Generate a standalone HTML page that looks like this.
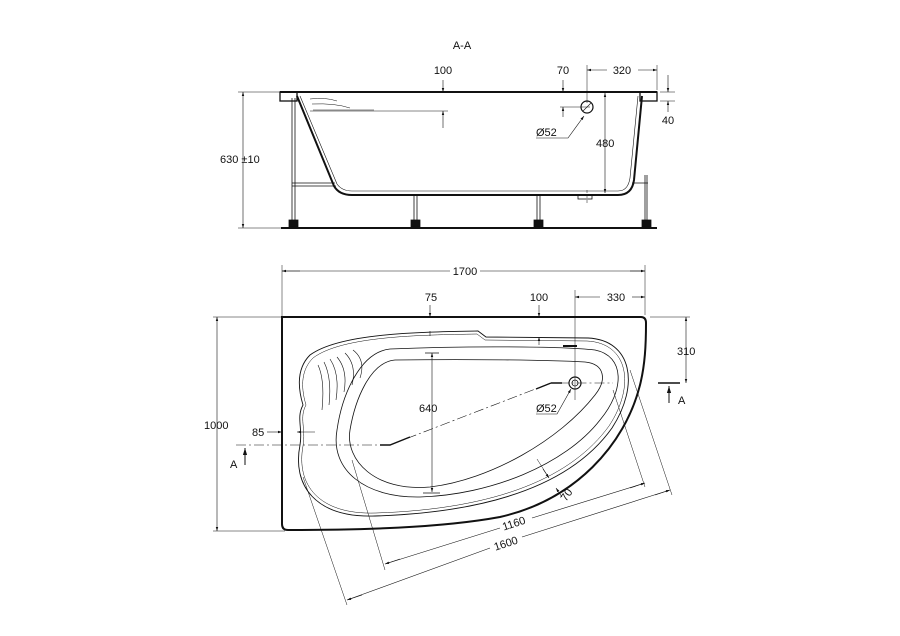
<!DOCTYPE html>
<html><head><meta charset="utf-8"><style>
html,body{margin:0;padding:0;background:#fff;}
svg{display:block;}
text{font-family:"Liberation Sans",sans-serif;font-size:11px;fill:#111;}
</style></head><body>
<svg width="900" height="636" viewBox="0 0 900 636" xmlns="http://www.w3.org/2000/svg">
<defs>
<marker id="a" viewBox="0 0 10 10" refX="10" refY="5" markerWidth="7" markerHeight="7" orient="auto-start-reverse"><path d="M0,2 L10,5 L0,8 Z" fill="#111"/></marker>
</defs>
<g stroke="#111" fill="none" stroke-width="0.8">
<text x="462" y="49" text-anchor="middle" stroke="none" font-size="12">A-A</text>
<path d="M280,92 H657" stroke-width="2"/>
<rect x="280" y="92" width="17" height="9" stroke-width="1.3"/>
<rect x="640" y="92" width="17" height="9" stroke-width="1.3"/>
<path d="M297,96 L334,186 Q339,195 352,195 L618,195 Q632,195 634,180 L642,96" stroke-width="2"/>
<path d="M300,96 L337,184 Q342,191 352,191 L618,191 Q628,191 630,178 L638,96" stroke-width="0.6"/>
<path d="M310,99 Q325,97 337,101 M312,104 Q335,103 350,108 M313,110 H374" stroke-width="0.5"/>
<path d="M281,228 H657" stroke-width="2"/>
<path d="M292,98 V222 M295,98 V222" stroke-width="0.8"/>
<path d="M292,183 H335 M292,186 H336" stroke-width="0.8"/>
<path d="M632,183 H648 M645,175 V220 M647,175 V220" stroke-width="0.8"/>
<path d="M414,195 V222 M417,195 V222 M537,195 V222 M540,195 V222" stroke-width="0.8"/>
<rect x="289" y="220" width="9" height="7" fill="#111"/>
<rect x="411" y="220" width="9" height="7" fill="#111"/>
<rect x="534" y="220" width="9" height="7" fill="#111"/>
<rect x="642" y="220" width="9" height="7" fill="#111"/>
<rect x="578" y="195" width="14" height="4" stroke-width="0.8"/>
<path d="M587,190 V205" stroke-dasharray="3,2" stroke-width="0.5"/>
<path d="M238,92 H280 M238,228 H281" stroke-width="0.5"/>
<path d="M243,92 V228" marker-start="url(#a)" marker-end="url(#a)" stroke-width="0.6"/>
<text x="220" y="163" stroke="none">630 ±10</text>
<path d="M443,80 V92" marker-end="url(#a)" stroke-width="0.6"/>
<path d="M443,128 V111" marker-end="url(#a)" stroke-width="0.6"/>
<path d="M310,111 H448" stroke-width="0.5"/>
<text x="443" y="74" text-anchor="middle" stroke="none">100</text>
<path d="M563,80 V92" marker-end="url(#a)" stroke-width="0.6"/>
<path d="M563,117 V107" marker-end="url(#a)" stroke-width="0.6"/>
<path d="M560,107 H590" stroke-width="0.5"/>
<text x="563" y="74" text-anchor="middle" stroke="none">70</text>
<circle cx="587" cy="107" r="6" stroke-width="1.2"/>
<path d="M583,111 L591,103" stroke-width="0.6"/>
<path d="M587,65 V103 M657,65 V90" stroke-width="0.5"/>
<path d="M587,70 H607" marker-start="url(#a)" stroke-width="0.6"/>
<path d="M638,70 H657" marker-end="url(#a)" stroke-width="0.6"/>
<text x="622" y="74" text-anchor="middle" stroke="none">320</text>
<path d="M660,92 H675 M660,101 H675" stroke-width="0.5"/>
<path d="M668,75 V92" marker-end="url(#a)" stroke-width="0.6"/>
<path d="M668,112 V101" marker-end="url(#a)" stroke-width="0.6"/>
<text x="668" y="124" text-anchor="middle" stroke="none">40</text>
<path d="M605,93 V193" marker-start="url(#a)" marker-end="url(#a)" stroke-width="0.6"/>
<text x="596" y="147" stroke="none">480</text>
<text x="536" y="136" stroke="none">Ø52</text>
<path d="M536,138 H568 L584,116" marker-end="url(#a)" stroke-width="0.6"/>
<path d="M282,317 H641 Q646,317 646,323 C646,345 645,365 640,385 C625,445 575,500 500,517 C440,528 360,530 288,530 Q282,530 282,524 Z" stroke-width="2"/>
<path d="M310,355 C340,333 420,332 478,331 L486,337 L588,338 C632,340 640,385 612,428 C575,480 500,512 375,516 C315,518 292,485 300,445 C303,428 296,418 303,405 C297,385 298,367 310,355 Z" stroke-width="0.9"/>
<path d="M313,358 C342,336 420,335 477,334 L485,340 L587,341 C628,343 636,385 609,426 C572,477 498,509 376,513 C318,515 296,484 303,446 C306,428 299,418 306,405 C300,385 302,369 313,358 Z" stroke-width="0.5"/>
<path d="M318,365 Q325,380 322,410 M324,362 Q332,378 329,405 M330,359 Q340,374 336,400 M337,357 Q348,370 344,392 M345,353 Q357,365 352,385 M353,350 Q366,360 360,378" stroke-width="0.6"/>
<path d="M390,349 C460,346 560,346 595,350 C625,356 625,390 600,420 C565,465 490,495 420,497 C365,498 330,470 337,430 C342,395 360,352 390,349 Z" stroke-width="0.8"/>
<path d="M395,360 C470,359 550,360 585,362 C605,364 607,380 595,395 C560,440 490,480 430,487 C375,492 345,460 350,430 C355,400 370,362 395,360 Z" stroke-width="0.8"/>
<path d="M563,346 H577" stroke-width="2"/>
<circle cx="575" cy="383" r="6" stroke-width="1.2"/>
<circle cx="575" cy="383" r="3" stroke-width="0.8"/>
<path d="M236,445 H380 M390,445 L551,383 H613" stroke-dasharray="10,3,2,3" stroke-width="0.6"/>
<path d="M380,445 H390 L410,437" stroke-width="1.4"/>
<path d="M551,383 H562 M536,389 L551,383" stroke-width="1.4"/>
<path d="M658,383 H680" stroke-width="1.4"/>
<path d="M669,403 V386" marker-end="url(#a)" stroke-width="1"/>
<text x="678" y="404" stroke="none">A</text>
<path d="M245,465 V448" marker-end="url(#a)" stroke-width="1"/>
<text x="230" y="468" stroke="none">A</text>
<path d="M282,265 V317 M645,265 V315" stroke-width="0.5"/>
<path d="M282,271 H450 M480,271 H645" stroke-width="0.6"/>
<path d="M282,271 H300" marker-start="url(#a)" stroke-width="0.6"/>
<path d="M630,271 H645" marker-end="url(#a)" stroke-width="0.6"/>
<text x="465" y="275" text-anchor="middle" stroke="none">1700</text>
<path d="M575,290 V400" stroke-width="0.5"/>
<path d="M575,297 H600" marker-start="url(#a)" stroke-width="0.6"/>
<path d="M632,297 H645" marker-end="url(#a)" stroke-width="0.6"/>
<text x="616" y="301" text-anchor="middle" stroke="none">330</text>
<path d="M430,305 V317" marker-end="url(#a)" stroke-width="0.6"/>
<path d="M430,336 V331" stroke-width="0.6"/>
<text x="431" y="301" text-anchor="middle" stroke="none">75</text>
<path d="M539,305 V317" marker-end="url(#a)" stroke-width="0.6"/>
<path d="M539,345 V337" marker-end="url(#a)" stroke-width="0.6"/>
<text x="539" y="301" text-anchor="middle" stroke="none">100</text>
<path d="M650,317 H690" stroke-width="0.5"/>
<path d="M686,317 V383" marker-start="url(#a)" marker-end="url(#a)" stroke-width="0.6"/>
<text x="677" y="355" stroke="none">310</text>
<path d="M213,317 H282 M213,531 H285" stroke-width="0.5"/>
<path d="M217,317 V531" marker-start="url(#a)" marker-end="url(#a)" stroke-width="0.6"/>
<text x="204" y="429" stroke="none">1000</text>
<path d="M267,432 H282" marker-end="url(#a)" stroke-width="0.6"/>
<path d="M315,432 H297" marker-end="url(#a)" stroke-width="0.6"/>
<text x="252" y="436" stroke="none">85</text>
<path d="M432,353 V492" marker-start="url(#a)" marker-end="url(#a)" stroke-width="0.6"/>
<path d="M425,353 H439 M423,493 H440" stroke-width="0.8"/>
<text x="419" y="412" stroke="none">640</text>
<text x="536" y="412" stroke="none">Ø52</text>
<path d="M536,414 H557 L571,389" marker-end="url(#a)" stroke-width="0.6"/>
<path d="M537,459 L549,478" stroke-width="0.5"/>
<path d="M549,478 L543,469" marker-start="url(#a)" stroke-width="0.6"/>
<path d="M556,488 L562,497" marker-start="url(#a)" stroke-width="0.6"/>
<text x="566" y="502" stroke="none" transform="rotate(-55 566 502)">70</text>
<path d="M352,460 L385,570 M613,390 L645,487" stroke-width="0.5"/>
<path d="M385,564 L500,528 M532,518 L645,483" stroke-width="0.6"/>
<path d="M400,559 L385,564" marker-end="url(#a)" stroke-width="0.6"/>
<path d="M630,488 L645,483" marker-end="url(#a)" stroke-width="0.6"/>
<text x="515" y="527" text-anchor="middle" stroke="none" transform="rotate(-18 515 527)">1160</text>
<path d="M303,477 L347,605 M630,370 L672,495" stroke-width="0.5"/>
<path d="M347,600 L490,548 M522,537 L670,490" stroke-width="0.6"/>
<path d="M362,595 L347,600" marker-end="url(#a)" stroke-width="0.6"/>
<path d="M655,495 L670,490" marker-end="url(#a)" stroke-width="0.6"/>
<text x="507" y="547" text-anchor="middle" stroke="none" transform="rotate(-18 507 547)">1600</text>
</g>
</svg>
</body></html>
